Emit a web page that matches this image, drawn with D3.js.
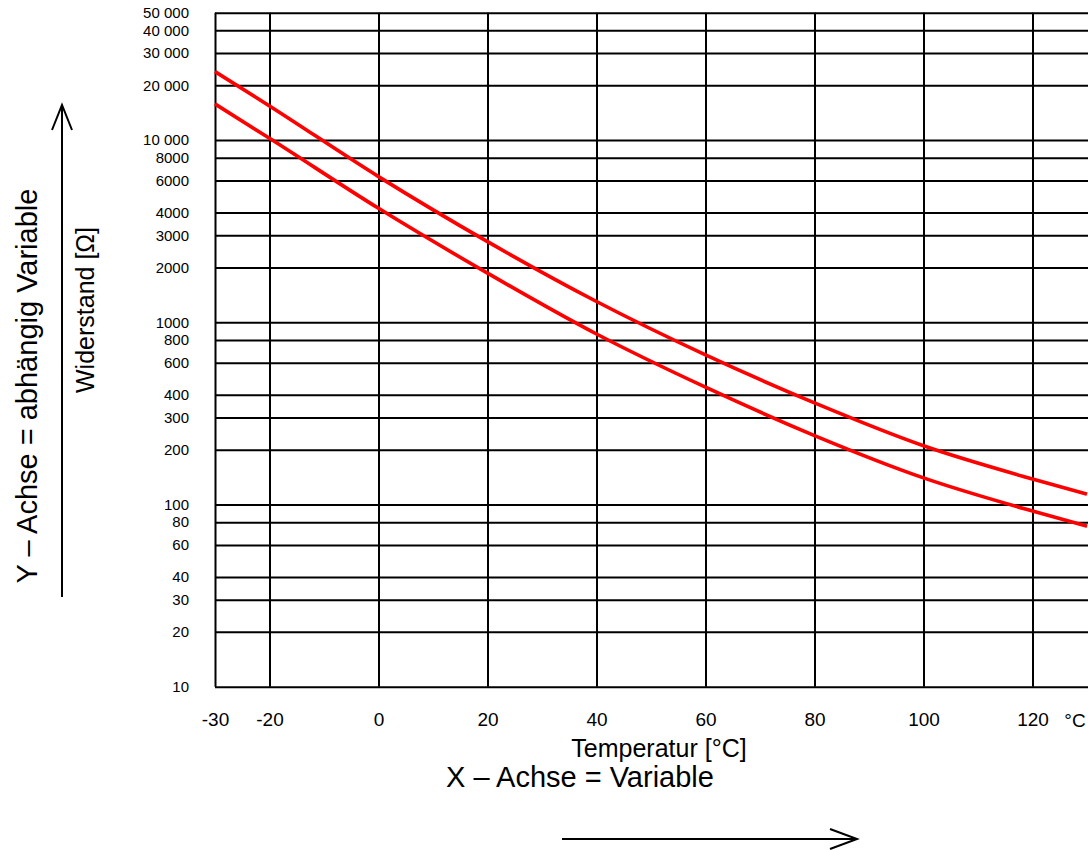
<!DOCTYPE html>
<html>
<head>
<meta charset="utf-8">
<script src="https://cdn.jsdelivr.net/npm/d3@7"></script>
<style>
  body { margin: 0; background: #fff; }
  svg { display: block; font-family: "Liberation Sans", Arial, sans-serif; }
  .grid line { stroke: #000; stroke-width: 2; }
  .grid path { display: none; }
</style>
</head>
<body>
<div id="chart"></div>
<script>
const width = 1088;
const height = 850;

// Temperature [°C] and resistance [Ω]
const temps = [-30, -20, 0, 20, 40, 60, 80, 100, 120, 130];
const upperOhm = [23740, 15390, 6300, 2770, 1300, 662, 361, 210, 138, 114];
const lowerOhm = [15780, 10230, 4220, 1860, 862, 440, 239, 140, 92, 76];

const xTicks = [-30, -20, 0, 20, 40, 60, 80, 100, 120];
const yTicks = [10, 20, 30, 40, 60, 80, 100, 200, 300, 400, 600, 800,
  1000, 2000, 3000, 4000, 6000, 8000, 10000, 20000, 30000, 40000, 50000];
const yTickLabels = ['10', '20', '30', '40', '60', '80', '100', '200', '300', '400', '600', '800',
  '1000', '2000', '3000', '4000', '6000', '8000', '10 000', '20 000', '30 000', '40 000', '50 000'];

// plot box (right side runs off the page like in the original)
const plotLeft = 215;
const plotTop = 12.7;
const plotBottom = 686.7;

const x = d3.scaleLinear()
  .domain([-30, 131])
  .range([plotLeft, plotLeft + 161 * 5.45]);

const y = d3.scaleLog()
  .domain([10, 50000])
  .range([plotBottom, plotTop]);

const svg = d3.select('#chart').append('svg')
  .attr('width', width)
  .attr('height', height);

// vertical grid + temperature ticks
svg.append('g')
  .attr('class', 'grid')
  .attr('transform', `translate(0, ${plotBottom})`)
  .call(d3.axisBottom(x)
    .tickValues(xTicks)
    .tickSize(-(plotBottom - plotTop))
    .tickPadding(26)
    .tickFormat(d => d))
  .call(g => g.selectAll('text')
    .attr('fill', '#000')
    .style('font-size', '19px')
    .style('font-family', '"Liberation Sans", Arial, sans-serif'));

// horizontal grid + resistance ticks
svg.append('g')
  .attr('class', 'grid')
  .attr('transform', `translate(${plotLeft}, 0)`)
  .call(d3.axisLeft(y)
    .tickValues(yTicks)
    .tickSize(-(width - plotLeft + 10))
    .tickPadding(26)
    .tickFormat((d, i) => yTickLabels[i]))
  .call(g => g.selectAll('text')
    .attr('fill', '#000')
    .style('font-size', '15px')
    .style('font-family', '"Liberation Sans", Arial, sans-serif'));

// unit after the last tick
svg.append('text')
  .attr('x', x(127.8))
  .attr('y', plotBottom + 40)
  .attr('text-anchor', 'middle')
  .style('font-size', '19px')
  .text('°C');

// curves
const line = d3.line()
  .x(d => x(d[0]))
  .y(d => y(d[1]))
  .curve(d3.curveMonotoneX);

[upperOhm, lowerOhm].forEach(series => {
  svg.append('path')
    .datum(temps.map((t, i) => [t, series[i]]))
    .attr('fill', 'none')
    .attr('stroke', '#ff0000')
    .attr('stroke-width', 3.6)
    .attr('d', line);
});

// axis titles
svg.append('text')
  .attr('x', 659)
  .attr('y', 757)
  .attr('text-anchor', 'middle')
  .style('font-size', '25px')
  .text('Temperatur [°C]');

svg.append('text')
  .attr('x', 580)
  .attr('y', 787)
  .attr('text-anchor', 'middle')
  .style('font-size', '29px')
  .text('X – Achse = Variable');

svg.append('text')
  .attr('transform', 'translate(94, 310) rotate(-90)')
  .attr('text-anchor', 'middle')
  .style('font-size', '25px')
  .text('Widerstand [Ω]');

svg.append('text')
  .attr('transform', 'translate(37, 386) rotate(-90)')
  .attr('text-anchor', 'middle')
  .style('font-size', '29px')
  .text('Y – Achse = abhängig Variable');

// direction arrows
const arrows = svg.append('g')
  .attr('fill', 'none')
  .attr('stroke', '#000')
  .attr('stroke-width', 2);

arrows.append('line')
  .attr('x1', 562).attr('y1', 839)
  .attr('x2', 857).attr('y2', 839);
arrows.append('path')
  .attr('d', 'M830,829 L857,839 L830,849');

arrows.append('line')
  .attr('x1', 62).attr('y1', 597)
  .attr('x2', 62).attr('y2', 105);
arrows.append('path')
  .attr('d', 'M52,130 L62,105 L72,130');
</script>
</body>
</html>
